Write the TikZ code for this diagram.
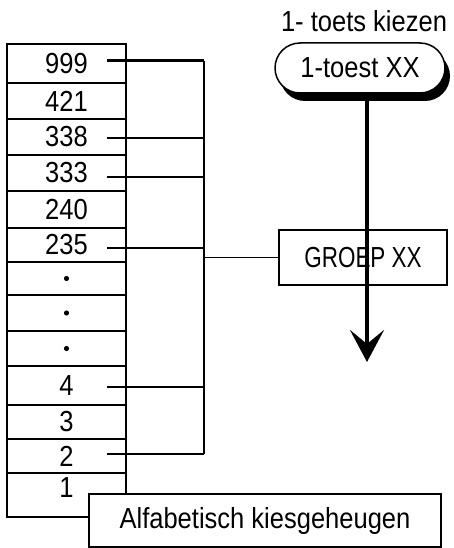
\documentclass[tikz,border=0pt]{standalone}
\usepackage{fontspec}
\setmainfont{Liberation Sans}[FakeStretch=0.88]
\usetikzlibrary{shapes.misc,shadows,arrows.meta}
\begin{document}
\begin{tikzpicture}[x=1pt,y=-1pt,
  txt/.style={font=\fontsize{29}{30}\selectfont, inner sep=0pt},
  cell/.style={txt, draw, line width=1.5pt, minimum width=119pt, anchor=center},
  conn/.style={line width=1.3pt},
  heavy/.style={line width=3pt},
  boxed/.style={txt, draw, line width=1.5pt, fill=white},
  pill/.style={txt, draw, line width=1.5pt, fill=white, rounded rectangle,
    minimum width=170pt, minimum height=50pt,
    drop shadow={shadow xshift=5pt, shadow yshift=-8pt, fill=black, opacity=1}},
  bigarrow/.style={line width=4.5pt, -{Stealth[length=32pt, width=34pt, inset=14pt]}}
]
\useasboundingbox (0,0) rectangle (453,548);

% memory column
\foreach \n/\t/\a/\b in {a/999/44/83, b/421/83/119, c/338/119/155, d/333/155/191,
    e/240/191/228, f/235/228/262, j/4/366/405, k/3/405/439, l/2/439/473}
  \node[cell, minimum height={(\b-\a)*1pt}] (r\n) at (66.5,{(\a+\b)/2}) {\t};
\foreach \n/\a/\b in {g/262/295, h/295/331, i/331/366}{
  \node[cell, minimum height={(\b-\a)*1pt}] (r\n) at (66.5,{(\a+\b)/2}) {};
  \fill (r\n.center) circle (2.6pt);
}
\node[cell, minimum height=44pt, text depth=14pt] (rm) at (66.5,495) {1};

% connector start points
\coordinate (s999) at (107,61);
\coordinate (s338) at (107,138);
\coordinate (s333) at (107,177);
\coordinate (s235) at (107,248);
\coordinate (s4) at (107,387);
\coordinate (s2) at (107,454);
\coordinate (busT) at (204,61);
\coordinate (busB) at (204,454);

% group box
\node[boxed, minimum width=168pt, minimum height=55pt] (groep) at (363,257.5) {\scalebox{0.88}[1]{GROEP XX}};

% bus
\draw[conn] (busT) -- (busB);
\draw[heavy] (s999) -- (busT);
\draw[conn] (s338) -- (s338 -| busT);
\draw[conn] (s333) -- (s333 -| busT);
\draw[conn] (s235) -- (s235 -| busT);
\draw[conn] (s4) -- (s4 -| busT);
\draw[conn] (s2) -- (s2 -| busT);
\draw[conn] (groep.west) -- (groep.west -| busT);

% key
\node[txt] (title) at (364,21) {1- toets kiezen};
\node[pill] (key) at (360,68) {1-toest XX};
\coordinate (tip) at (367,362);
\draw[bigarrow] (key.south -| tip) -- (tip);

% bottom label
\node[boxed, minimum width=352pt, minimum height=53pt] (alfa) at (265,520.5) {Alfabetisch kiesgeheugen};
\end{tikzpicture}
\end{document}
